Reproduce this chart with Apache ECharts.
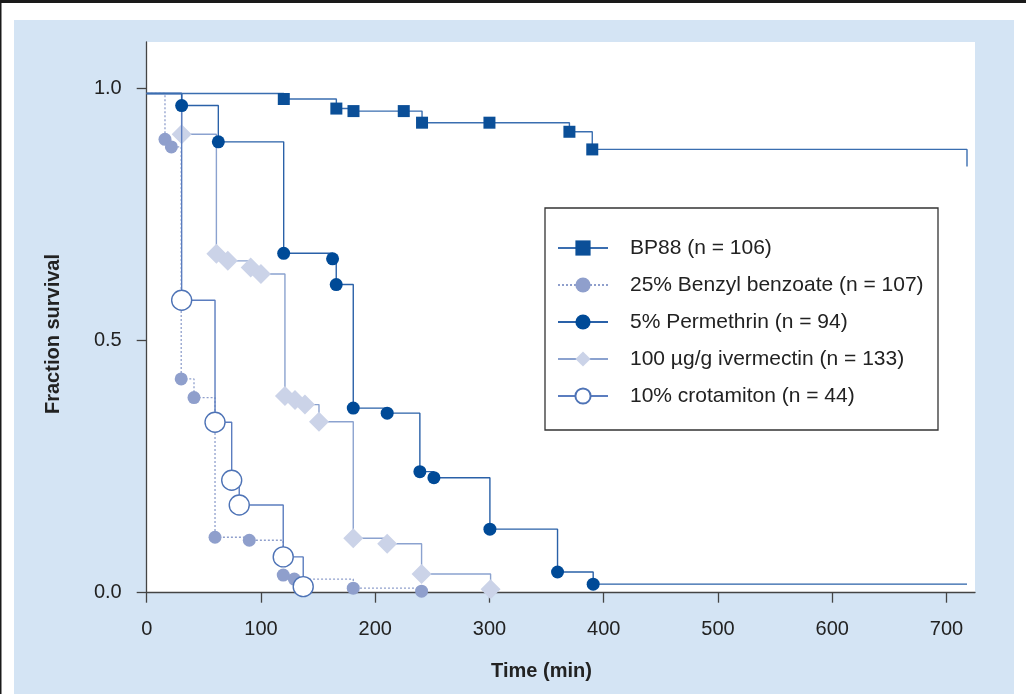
<!DOCTYPE html>
<html>
<head>
<meta charset="utf-8">
<style>
html,body{margin:0;padding:0;background:#fff;}
#main{width:1026px;height:694px;}
</style>
<script src="https://cdn.jsdelivr.net/npm/echarts@6/dist/echarts.min.js"></script>
</head>
<body>
<div id="main"></div>
<script>
// survival at t = 0 (all curves start on the same top line)
var startSurvival = 0.99;
var endTime = 718;

var bp88Time = [120, 166, 181, 225, 241, 300, 370, 390];
var bp88Surv = [0.979, 0.960, 0.955, 0.955, 0.932, 0.932, 0.914, 0.879];
var bp88Tail = 0.845;

var benzylTime = [16, 21.6, 30.2, 41.4, 59.8, 89.8, 119.5, 129.2, 180.8, 240.6];
var benzylSurv = [0.899, 0.884, 0.424, 0.387, 0.110, 0.104, 0.035, 0.027, 0.009, 0.003];

var permTime = [30.6, 62.7, 119.9, 162.7, 165.9, 180.8, 210.5, 239.1, 251.4, 300.4, 359.6, 390.8];
var permSurv = [0.966, 0.894, 0.673, 0.662, 0.611, 0.366, 0.356, 0.240, 0.228, 0.126, 0.041, 0.017];
var permTail = 0.017;

var ivermTime = [30.6, 61, 71, 91, 100, 121, 129.8, 138.5, 150.8, 180.8, 210.5, 240.6, 301];
var ivermSurv = [0.909, 0.672, 0.658, 0.645, 0.632, 0.390, 0.382, 0.373, 0.339, 0.108, 0.097, 0.037, 0.007];

var crotTime = [30.6, 59.8, 74.4, 81, 119.5, 137];
var crotSurv = [0.580, 0.338, 0.223, 0.174, 0.071, 0.012];

var xTicks = [0, 100, 200, 300, 400, 500, 600, 700];
var yTicks = [0, 0.5, 1.0];

var names = ['BP88 (n = 106)', '25% Benzyl benzoate (n = 107)', '5% Permethrin (n = 94)',
  '100 \u00b5g/g ivermectin (n = 133)', '10% crotamiton (n = 44)'];

function curve(times, surv, tail) {
  var pts = [{ value: [0, startSurvival], symbol: 'none' }];
  for (var i = 0; i < times.length; i++) pts.push([times[i], surv[i]]);
  if (tail != null) pts.push({ value: [endTime, tail], symbol: 'none' });
  return pts;
}

var font = '"Liberation Sans", Arial, Helvetica, sans-serif';

var option = {
  animation: false,
  backgroundColor: '#fff',
  grid: {
    left: 146.7, right: 51, top: 42, bottom: 101.3,
    show: true, backgroundColor: '#fff', borderWidth: 0
  },
  xAxis: {
    type: 'value', min: 0, max: 725,
    splitLine: { show: false },
    axisLine: { lineStyle: { color: '#444', width: 1.3 } },
    axisTick: { customValues: xTicks, length: 10, lineStyle: { color: '#444', width: 1.3 } },
    axisLabel: { customValues: xTicks, fontSize: 20, color: '#222', margin: 27, fontFamily: font }
  },
  yAxis: {
    type: 'value', min: 0, max: 1.092,
    splitLine: { show: false },
    axisLine: { show: true, lineStyle: { color: '#444', width: 1.3 } },
    axisTick: { show: true, customValues: yTicks, length: 10, lineStyle: { color: '#444', width: 1.3 } },
    axisLabel: {
      customValues: yTicks, fontSize: 20, color: '#222', margin: 25, fontFamily: font,
      formatter: function (v) { return v.toFixed(1); }
    }
  },
  legend: {
    orient: 'vertical',
    left: 557, top: 237.5,
    padding: 0,
    itemWidth: 50, itemHeight: 19,
    itemGap: 16,
    selectedMode: false,
    data: names,
    textStyle: { fontSize: 21, color: '#222', fontFamily: font, lineHeight: 21, padding: [0, 0, 0, 17] }
  },
  graphic: [
    { type: 'rect', z: -1, shape: { x: 14, y: 20, width: 1000, height: 680 }, style: { fill: '#d4e4f4' } },
    { type: 'rect', z: 10, shape: { x: 0, y: 0, width: 1026, height: 3 }, style: { fill: '#1a1a1a' } },
    { type: 'rect', z: 10, shape: { x: 0, y: 0, width: 1.5, height: 694 }, style: { fill: '#1a1a1a' } },
    { type: 'rect', z: 3, shape: { x: 545, y: 208, width: 393, height: 222 }, style: { fill: '#fff', stroke: '#333', lineWidth: 1.3 } },
    {
      type: 'text', z: 10, x: 53, y: 334, rotation: Math.PI / 2,
      style: { text: 'Fraction survival', x: 0, y: 0, font: 'bold 20px ' + font, fill: '#222',
        textAlign: 'center', textVerticalAlign: 'middle', align: 'center', verticalAlign: 'middle' }
    },
    {
      type: 'text', z: 10, x: 541.5, y: 671,
      style: { text: 'Time (min)', x: 0, y: 0, font: 'bold 20px ' + font, fill: '#222',
        textAlign: 'center', textVerticalAlign: 'middle', align: 'center', verticalAlign: 'middle' }
    }
  ],
  series: [
    {
      name: names[3], type: 'line', step: 'end', z: 2, showAllSymbol: true,
      symbol: 'diamond', symbolSize: 20,
      itemStyle: { color: '#cbd3e8' },
      lineStyle: { color: '#8ba2cf', width: 1.4 },
      data: curve(ivermTime, ivermSurv, null)
    },
    {
      name: names[1], type: 'line', step: 'end', z: 3, showAllSymbol: true,
      symbol: 'circle', symbolSize: 13,
      itemStyle: { color: '#8f9fcc' },
      lineStyle: { color: '#8f9fcc', width: 1.3, type: [2, 2] },
      data: curve(benzylTime, benzylSurv, null)
    },
    {
      name: names[4], type: 'line', step: 'end', z: 4, showAllSymbol: true,
      symbol: 'circle', symbolSize: 20,
      itemStyle: { color: '#fff', borderColor: '#4e73b6', borderWidth: 1.4 },
      lineStyle: { color: '#5b7dbf', width: 1.4 },
      data: curve(crotTime, crotSurv, null)
    },
    {
      name: names[2], type: 'line', step: 'end', z: 5, showAllSymbol: true,
      symbol: 'circle', symbolSize: 13,
      itemStyle: { color: '#004a97' },
      lineStyle: { color: '#2a61a8', width: 1.4 },
      data: curve(permTime, permSurv, permTail)
    },
    {
      name: names[0], type: 'line', step: 'end', z: 6, showAllSymbol: true,
      symbol: 'rect', symbolSize: 12,
      itemStyle: { color: '#0b4f98' },
      lineStyle: { color: '#3a6eb0', width: 1.4 },
      data: curve(bp88Time, bp88Surv, bp88Tail)
    }
  ]
};

var myChart = echarts.init(document.getElementById('main'));
myChart.setOption(option);
</script>
</body>
</html>
